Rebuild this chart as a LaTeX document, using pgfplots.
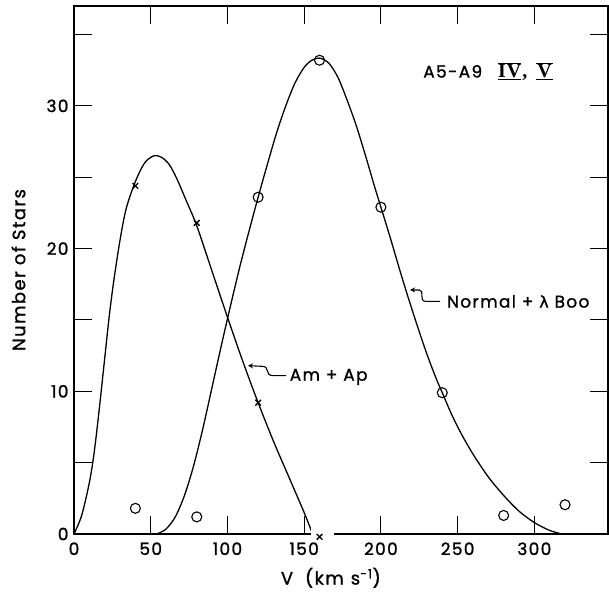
\documentclass[border=0pt]{standalone}
\usepackage{pgfplots}
\pgfplotsset{compat=1.18}
\usepackage{fontspec}
\setmainfont{Poppins}[LetterSpace=8, FakeBold=1.2]
\newfontfamily\grk{DejaVu Sans}[FakeBold=1.2]
\newfontfamily\rmn{Liberation Serif}
\usetikzlibrary{arrows.meta}
\begin{document}
\begin{tikzpicture}
\begin{axis}[
  scale only axis, width=534bp, height=528bp,
  xmin=0, xmax=348, ymin=0, ymax=37,
  xtick={0,50,...,300}, ytick={0,5,...,35},
  yticklabels={0,,10,,20,,30,},
  tick align=inside, major tick length=18bp,
  tick style={line width=1.1pt, black},
  axis line style={line width=1.1pt},
  ticklabel style={font=\fontsize{17}{18}\selectfont},
  xticklabel style={yshift=-5bp},
  yticklabel style={xshift=-2bp},
  /pgf/number format/assume math mode=true,
  xlabel={V\hspace{12bp}(km\hspace{7bp}s\textsuperscript{-1})},
  ylabel={Number of Stars},
  label style={font=\fontsize{18}{19}\selectfont},
  xlabel style={at={(axis description cs:0.481,-0.083)}, anchor=center},
  ylabel style={at={(axis description cs:-0.104,0.5)}, anchor=center},
  clip=false,
]
% Am + Ap curve
\addplot[line width=1.3pt, smooth, tension=0.5] coordinates {
(0,0) (5,1.3) (10,3.6) (13,5.6) (16,8.3) (20,12.3) (23,15.3) (26,17.8) (30,20.6)
(34,22.8) (40,24.7) (46,26.0) (52,26.5) (57,26.4) (62,25.9) (67,24.9) (73,23.4)
(80,21.6) (90,18.4) (100,15.2) (110,12.1) (120,9.2) (130,6.5) (140,4.0) (150,1.5) (155.5,0)};
% Normal + lambda Boo curve
\addplot[line width=1.3pt, smooth, tension=0.5] coordinates {
(54,0) (60,0.35) (66,1.2) (72,2.7) (78,4.8) (84,7.4) (90,10.3) (96,13.2) (102,16.0)
(108,18.7) (114,21.2) (120,23.6) (126,25.9) (132,28.1) (138,30.0) (144,31.6)
(150,32.7) (155,33.2) (160,33.35) (166,33.0) (172,32.0) (178,30.4) (184,28.6)
(190,26.5) (196,24.3) (200,22.9) (206,20.8) (212,18.6) (218,16.5) (224,14.5)
(230,12.6) (236,10.9) (240,9.9) (246,8.4) (252,7.1) (260,5.6) (270,4.0) (280,2.7)
(290,1.6) (300,0.8) (310,0.25) (318,0)};
% gap in the axis line around the cross at 160
\fill[white] (axis cs:154.5,-0.5) rectangle (axis cs:169.5,0.5);
% Am + Ap data (crosses)
\addplot[only marks, mark=x, mark size=4bp, line width=1.3pt] coordinates {
(40,24.4) (80,21.8) (120,9.2) (160,-0.2)};
% Normal data (circles)
\addplot[only marks, mark=o, mark size=5bp, line width=1.1pt, mark options={fill=white}] coordinates {
(40,1.8) (80,1.2) (120,23.6) (160,33.2) (200,22.9) (240,9.9) (280,1.3) (320,2.05)};
% annotations
\node[anchor=west, font=\fontsize{17}{18}\selectfont, inner sep=0pt] at (axis cs:227.5,32.4)
  {A5-A9\hspace{16bp}{\rmn\bfseries\fontsize{20}{20}\selectfont$\underline{\overline{\hbox{I\kern1bp V}}}$\kern1bp,\hspace{9bp}$\underline{\overline{\hbox{\kern1bp V\kern1bp}}}$}};
\node[anchor=west, font=\fontsize{17}{18}\selectfont, inner sep=0pt] at (axis cs:243,16.3)
  {Normal + {\grk\fontsize{16}{18}\selectfont λ} Boo};
\node[anchor=west, font=\fontsize{17}{18}\selectfont, inner sep=0pt] at (axis cs:140.5,11.0)
  {Am + Ap};
\draw[line width=1.1pt, -{Stealth[length=5bp,width=5bp]}] (axis cs:238.6,16.3) -- (axis cs:229.5,16.3)
  .. controls (axis cs:224,16.3) and (axis cs:229,17.1) .. (axis cs:225,17.1) -- (axis cs:219,17.1);
\draw[line width=1.1pt, -{Stealth[length=5bp,width=5bp]}] (axis cs:138.2,11.1) -- (axis cs:129.7,11.1)
  .. controls (axis cs:124,11.1) and (axis cs:128,11.75) .. (axis cs:122.6,11.75) -- (axis cs:113.4,11.8);
\end{axis}
\pgfresetboundingbox
\path (-74bp,-59bp) rectangle (535bp,534bp);
\end{tikzpicture}
\end{document}
